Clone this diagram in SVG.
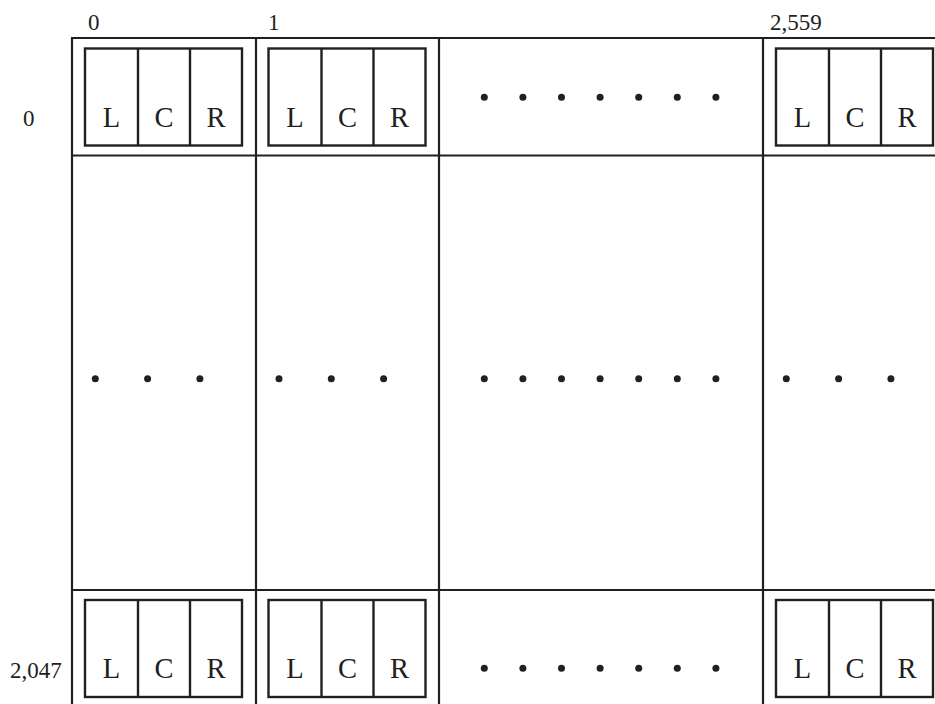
<svg xmlns="http://www.w3.org/2000/svg" width="935" height="704" viewBox="0 0 935 704">
<style>
.ln{stroke:#231f20;stroke-width:2.2;fill:none}
.bx{stroke:#231f20;stroke-width:2.4;fill:none}
.lt{font-family:"Liberation Serif","Times New Roman",serif;font-size:28.5px;fill:#231f20;text-anchor:middle}
.lb{font-family:"Liberation Serif","Times New Roman",serif;font-size:23px;fill:#231f20}
.d{fill:#231f20}
</style>
<defs>
<g id="lcr">
<rect class="bx" x="0" y="0" width="157" height="97"/>
<line class="bx" x1="53" y1="0" x2="53" y2="97"/>
<line class="bx" x1="105" y1="0" x2="105" y2="97"/>
<text class="lt" x="26.5" y="78">L</text>
<text class="lt" x="79" y="78">C</text>
<text class="lt" x="131" y="78">R</text>
</g>
<g id="d3">
<circle class="d" cx="0" cy="0" r="3.5"/>
<circle class="d" cx="52.3" cy="0" r="3.5"/>
<circle class="d" cx="104.6" cy="0" r="3.5"/>
</g>
<g id="d7">
<circle class="d" cx="0" cy="0" r="3.5"/>
<circle class="d" cx="38.6" cy="0" r="3.5"/>
<circle class="d" cx="77.2" cy="0" r="3.5"/>
<circle class="d" cx="115.8" cy="0" r="3.5"/>
<circle class="d" cx="154.4" cy="0" r="3.5"/>
<circle class="d" cx="193" cy="0" r="3.5"/>
<circle class="d" cx="231.6" cy="0" r="3.5"/>
</g>
</defs>
<rect width="935" height="704" fill="#fff"/>
<g id="grid">
<line class="ln" x1="72" y1="38" x2="935" y2="38"/>
<line class="ln" x1="72" y1="155.5" x2="935" y2="155.5"/>
<line class="ln" x1="72" y1="590" x2="935" y2="590"/>
<line class="ln" x1="72" y1="37" x2="72" y2="704"/>
<line class="ln" x1="256" y1="37" x2="256" y2="704"/>
<line class="ln" x1="439" y1="37" x2="439" y2="704"/>
<line class="ln" x1="763" y1="37" x2="763" y2="704"/>
</g>
<g id="labels">
<text class="lb" x="88" y="30">0</text>
<text class="lb" x="268" y="30">1</text>
<text class="lb" x="770" y="30">2,559</text>
<text class="lb" x="23" y="126">0</text>
<text class="lb" x="10" y="678">2,047</text>
</g>
<g id="cell-0-0"><use href="#lcr" x="85" y="48.5"/></g>
<g id="cell-0-1"><use href="#lcr" x="268.5" y="48.5"/></g>
<g id="cell-0-dots"><use href="#d7" x="484.3" y="97.3"/></g>
<g id="cell-0-2559"><use href="#lcr" x="776" y="48.5"/></g>
<g id="mid-0"><use href="#d3" x="95.3" y="378.7"/></g>
<g id="mid-1"><use href="#d3" x="279" y="378.7"/></g>
<g id="mid-dots"><use href="#d7" x="484.3" y="378.7"/></g>
<g id="mid-2559"><use href="#d3" x="786.3" y="378.7"/></g>
<g id="cell-2047-0"><use href="#lcr" x="85" y="600"/></g>
<g id="cell-2047-1"><use href="#lcr" x="268.5" y="600"/></g>
<g id="cell-2047-dots"><use href="#d7" x="484.3" y="668.3"/></g>
<g id="cell-2047-2559"><use href="#lcr" x="776" y="600"/></g>
</svg>
